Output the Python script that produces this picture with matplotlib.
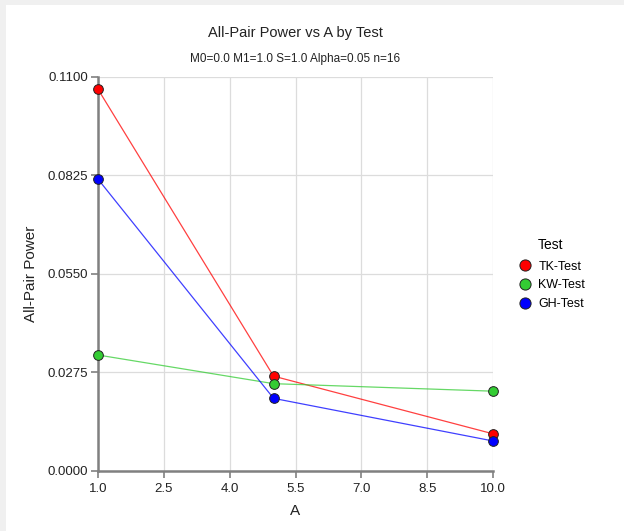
import matplotlib
matplotlib.use("Agg")
import matplotlib.pyplot as plt
from matplotlib.patches import Rectangle

plt.rcParams["font.family"] = ["Liberation Sans", "DejaVu Sans"]

# Data
a_values = [1.0, 5.0, 10.0]
tk_power = [0.1065, 0.0264, 0.0103]
kw_power = [0.0323, 0.0243, 0.0222]
gh_power = [0.0814, 0.0202, 0.0083]
series_names = ["TK-Test", "KW-Test", "GH-Test"]
series_colors = ["#ff0000", "#33cc33", "#0000ff"]
x_ticks = [1.0, 2.5, 4.0, 5.5, 7.0, 8.5, 10.0]
y_ticks = [0.0, 0.0275, 0.0550, 0.0825, 0.1100]

fig = plt.figure(figsize=(6.24, 5.31), dpi=100)
fig.patch.set_facecolor("#f0f0f0")
fig.patches.append(Rectangle((6 / 624, 0), 1, 1 - 5 / 531, transform=fig.transFigure,
                             facecolor="white", edgecolor="none", zorder=-10))

ax = fig.add_axes([98 / 624, 1 - 470.7 / 531, (493 - 98) / 624, (470.7 - 76.7) / 531])
ax.set_facecolor("white")

for vals, name, col in zip([tk_power, kw_power, gh_power], series_names, series_colors):
    ax.plot(a_values, vals, color=col, linewidth=0.9, alpha=0.75, zorder=3)
    ax.plot(a_values, vals, linestyle="none", marker="o", markersize=7,
            markerfacecolor=col, markeredgecolor="#222222", markeredgewidth=0.7,
            label=name, zorder=4, clip_on=False)

ax.set_xlim(1.0, 10.0)
ax.set_ylim(0.0, 0.11)
ax.set_xticks(x_ticks)
ax.set_xticklabels([f"{v:.1f}" for v in x_ticks])
ax.set_yticks(y_ticks)
ax.set_yticklabels([f"{v:.4f}" for v in y_ticks])
ax.grid(True, color="#dcdcdc", linewidth=0.9)
ax.set_axisbelow(True)

for side in ("top", "right"):
    ax.spines[side].set_visible(False)
for side in ("left", "bottom"):
    ax.spines[side].set_color("#808080")
    ax.spines[side].set_linewidth(1.8)
ax.tick_params(axis="both", colors="#808080", labelcolor="#222222", labelsize=9.5,
               length=5, width=1.2, direction="out")
ax.tick_params(axis="y", pad=2)

ax.set_xlabel("A", fontsize=11, color="#222222", labelpad=7)
ax.set_ylabel("All-Pair Power", fontsize=11, color="#222222", labelpad=7)

title_x = (98 + 493) / 2 / 624
fig.text(title_x, 1 - 33 / 531, "All-Pair Power vs A by Test",
         ha="center", va="center", fontsize=10.5, color="#222222")
fig.text(title_x, 1 - 59 / 531, "M0=0.0 M1=1.0 S=1.0 Alpha=0.05 n=16",
         ha="center", va="center", fontsize=8.5, color="#222222")

leg = fig.legend(loc="upper left", bbox_to_anchor=(504 / 624, 1 - 227 / 531),
                 title="Test", frameon=False, fontsize=9, title_fontsize=10,
                 handletextpad=0.35, labelspacing=0.55, handlelength=1.5,
                 markerscale=1.15)
leg._legend_box.align = "center"
leg._legend_box.sep = 6

fig.savefig("out.png", dpi=100, facecolor=fig.get_facecolor())
